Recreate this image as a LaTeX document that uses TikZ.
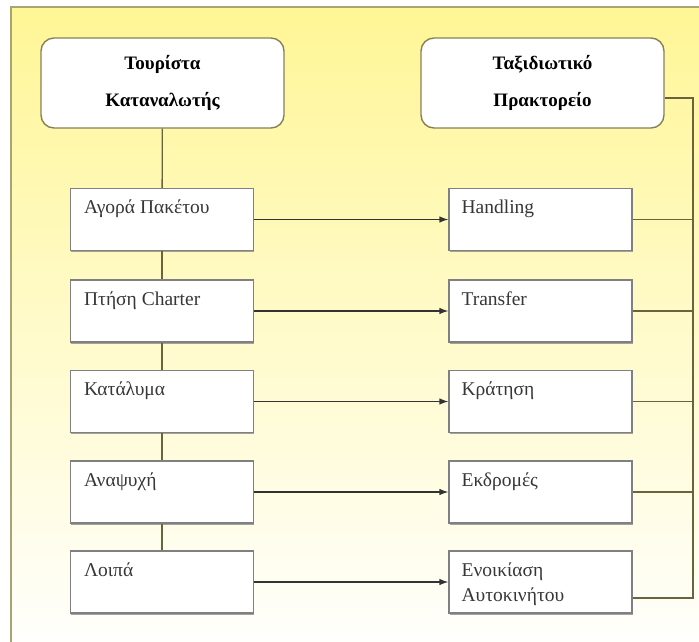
\documentclass[tikz,border=0pt]{standalone}
\usepackage{fontspec}
\setmainfont{Liberation Serif}
\usetikzlibrary{arrows.meta,calc,shadows}
\definecolor{paleyellow}{RGB}{255,246,150}
\definecolor{framegray}{RGB}{168,165,115}
\definecolor{boxolive}{RGB}{135,130,85}
\definecolor{linkolive}{RGB}{105,100,62}
\definecolor{textgray}{RGB}{55,55,55}
\tikzset{
  head/.style={draw=boxolive, line width=1.4pt, fill=white, rounded corners=13pt,
    minimum width=243pt, minimum height=90pt, align=center,
    font=\bfseries\fontsize{19}{37}\selectfont},
  item/.style={draw=gray, line width=1.2pt, fill=white, minimum width=183pt,
    minimum height=62pt,
    drop shadow={shadow xshift=0.5pt, shadow yshift=-1.6pt, fill=gray!90, opacity=0.8}},
  itemtext/.style={anchor=base west, inner sep=0pt, align=left, text=textgray,
    font=\fontsize{19.5}{25}\selectfont},
  link/.style={draw=linkolive, line width=1.3pt},
  arr/.style={draw=black!80, line width=1.2pt, -{Latex[length=9pt,width=6.5pt]}},
}

\begin{document}
\begin{tikzpicture}[x=1pt, y=-1pt]
\useasboundingbox (0,0) rectangle (699,641);
\clip (0,0) rectangle (699,641);
% background frame
\fill[top color=paleyellow, bottom color=white] (11,7) rectangle (720,660);
\draw[framegray, line width=1.5pt] (11,7) rectangle (720,660);

\node (tourist) [head] at (162.5,83) {Τουρίστα\\Καταναλωτής};
\node (agency) [head] at (542.5,83) {Ταξιδιωτικό\\Πρακτορείο};

\node (buy) [item] at (162,219.5) {};
\node (flight) [item] at (162,311) {};
\node (stay) [item] at (162,401.5) {};
\node (leisure) [item] at (162,492) {};
\node (other) [item] at (162,582) {};

\node (handling) [item] at (540.5,219.5) {};
\node (transfer) [item] at (540.5,311) {};
\node (booking) [item] at (540.5,401.5) {};
\node (trips) [item] at (540.5,492) {};
\node (rental) [item] at (540.5,582) {};

\node (buy text) [itemtext] at ($(buy.north west)+(14,26)$) {Αγορά Πακέτου};
\node (flight text) [itemtext] at ($(flight.north west)+(14,26)$) {Πτήση Charter};
\node (stay text) [itemtext] at ($(stay.north west)+(14,26)$) {Κατάλυμα};
\node (leisure text) [itemtext] at ($(leisure.north west)+(14,26)$) {Αναψυχή};
\node (other text) [itemtext] at ($(other.north west)+(14,26)$) {Λοιπά};

\node (handling text) [itemtext] at ($(handling.north west)+(13,26)$) {Handling};
\node (transfer text) [itemtext] at ($(transfer.north west)+(13,26)$) {Transfer};
\node (booking text) [itemtext] at ($(booking.north west)+(13,26)$) {Κράτηση};
\node (trips text) [itemtext] at ($(trips.north west)+(13,26)$) {Εκδρομές};
% two lines: base is the last line here
\node (rental text) [itemtext] at ($(rental.north west)+(13,51)$) {Ενοικίαση\\Αυτοκινήτου};

% left chain
\draw[link] (tourist) -- (buy);
\draw[link] (buy) -- (flight);
\draw[link] (flight) -- (stay);
\draw[link] (stay) -- (leisure);
\draw[link] (leisure) -- (other);

\draw[arr] (buy) -- (handling);
\draw[arr] (flight) -- (transfer);
\draw[arr] (stay) -- (booking);
\draw[arr] (leisure) -- (trips);
\draw[arr] (other) -- (rental);

% right rail
\coordinate (rail top) at (693,98);
\coordinate (rail end) at (693,598);
\draw[link] (agency.east |- rail top) -- (rail top) -- (rail end) -- (rental.east |- rail end);
\draw[link] (handling) -- (handling -| rail top);
\draw[link] (transfer) -- (transfer -| rail top);
\draw[link] (booking) -- (booking -| rail top);
\draw[link] (trips) -- (trips -| rail top);
\end{tikzpicture}
\end{document}
